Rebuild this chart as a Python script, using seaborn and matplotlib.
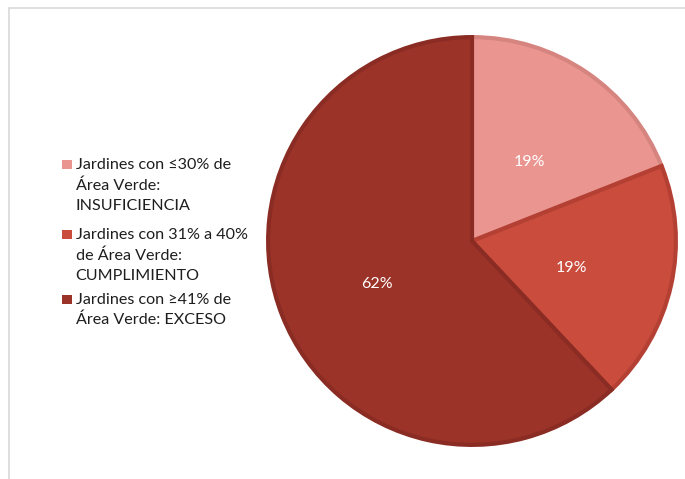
import matplotlib
matplotlib.use("Agg")
import matplotlib.pyplot as plt
from matplotlib.lines import Line2D
from matplotlib.patches import Rectangle
from matplotlib.transforms import offset_copy
import seaborn as sns

# Share of gardens by green-area category
categories = [
    "Jardines con ≤30% de\nÁrea Verde:\nINSUFICIENCIA",
    "Jardines con 31% a 40%\nde Área Verde:\nCUMPLIMIENTO",
    "Jardines con ≥41% de\nÁrea Verde: EXCESO",
]
shares = [19, 19, 62]

fill_colors = ["#EA9590", "#C94C3D", "#9C3329"]
edge_colors = ["#D6847F", "#B43F33", "#8A2C23"]

sns.set_theme(style="white")
plt.rcParams["font.family"] = ["Lato", "DejaVu Sans"]

W, H = 685, 479
fig = plt.figure(figsize=(W / 100, H / 100), dpi=100)
fig.patch.set_facecolor("white")


def fx(px):
    return px / W


def fy(py):
    return 1 - py / H


# frame lines along the top and left edges
fig.add_artist(Line2D([fx(9), 1], [fy(8), fy(8)], color="#d9d9d9", lw=1.2))
fig.add_artist(Line2D([fx(9), fx(9)], [0, fy(8)], color="#d9d9d9", lw=1.2))

cx, cy, r = 472, 241, 207
ax = fig.add_axes([fx(cx - r), fy(cy + r), 2 * r / W, 2 * r / H])

wedges, texts, autotexts = ax.pie(
    shares,
    colors=fill_colors,
    startangle=90,
    counterclock=False,
    autopct=lambda p: f"{p:.0f}%",
    pctdistance=0.5,
    radius=0.985,
    wedgeprops=dict(linewidth=3.0),
    textprops=dict(color="white", fontsize=11.5),
)
for w, ec in zip(wedges, edge_colors):
    w.set_edgecolor(ec)
# percentage labels sit slightly below the wedge midpoint
for t in autotexts:
    t.set_transform(offset_copy(t.get_transform(), fig=fig, x=0, y=-5, units="dots"))
ax.set_xlim(-1, 1)
ax.set_ylim(-1, 1)
ax.set_aspect("equal")
ax.axis("off")

# legend: a colour square beside the first line of each multi-line label
entry_tops = [160, 230, 295]
line_step = 20.5
for label, color, top in zip(categories, fill_colors, entry_tops):
    fig.add_artist(Rectangle((fx(62), fy(top + 9)), 10 / W, 9 / H,
                             facecolor=color, edgecolor="none",
                             transform=fig.transFigure))
    for i, line in enumerate(label.split("\n")):
        fig.text(fx(75.5), fy(top + 9 + i * line_step), line,
                 fontsize=11.6, color="#1e1e1e", ha="left", va="baseline")

fig.savefig("out.png", dpi=100, facecolor="white")
